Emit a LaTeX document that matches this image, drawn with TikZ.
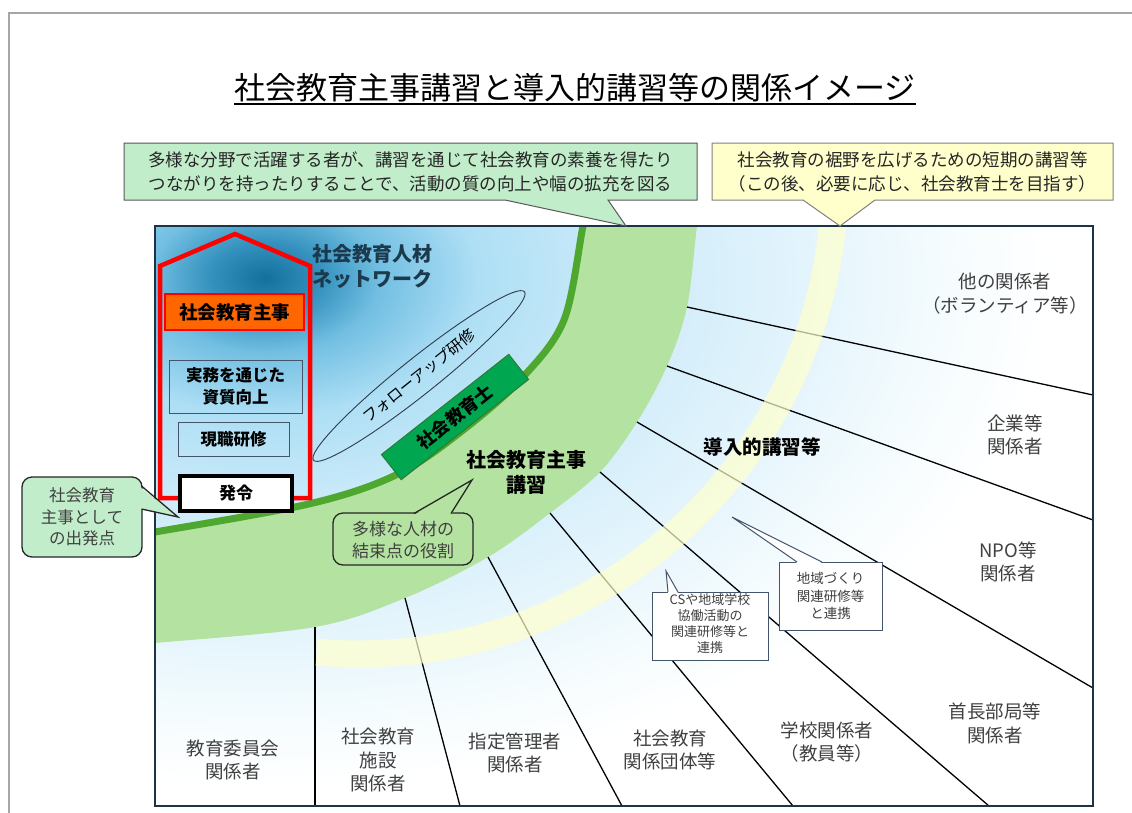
\documentclass[tikz,border=0pt]{standalone}
\usepackage{fontspec}
\setmainfont{Noto Sans CJK JP}
\usetikzlibrary{shapes.geometric}
\definecolor{bandgreen}{HTML}{B4E2A0}
\definecolor{arcgreen}{HTML}{4EA72E}
\definecolor{shigreen}{HTML}{00A650}
\definecolor{shiborder}{HTML}{2F7A34}
\definecolor{calloutgreen}{HTML}{C2EDCB}
\definecolor{calloutyellow}{HTML}{FFFFCC}
\definecolor{bandyellow}{HTML}{FFFFCC}
\definecolor{boxnavy}{HTML}{1C3445}
\definecolor{slate}{HTML}{44546A}
\definecolor{txtgray}{HTML}{404040}
\definecolor{txtdark}{HTML}{262626}
\definecolor{netblue}{HTML}{1B3A4E}
\definecolor{orangebox}{HTML}{FF6600}
\definecolor{framegray}{HTML}{A6A6A6}
\definecolor{g0}{HTML}{13709C}
\definecolor{g1}{HTML}{3592BE}
\definecolor{g2}{HTML}{72BFE2}
\definecolor{g3}{HTML}{AEDFF5}
\definecolor{g4}{HTML}{CDEBF9}
\definecolor{g5}{HTML}{E3F4FC}
\definecolor{g6}{HTML}{F6FCFE}
\pgfdeclareradialshading{bgshade}{\pgfpoint{0bp}{0bp}}{color(0bp)=(g0); color(1.7bp)=(g1); color(3.5bp)=(g2); color(6.5bp)=(g3); color(11bp)=(g4); color(16.5bp)=(g5); color(21bp)=(g6); color(24bp)=(white); color(50bp)=(white)}
\newcommand\fsz[2]{\fontsize{#1}{#2}\selectfont}
\begin{document}
\begin{tikzpicture}[x=1pt,y=-1pt,
  lbl/.style={font=\fsz{18.5}{23.5}, text=txtgray, align=center, inner sep=0pt},
  ctxt/.style={font=\fsz{17.5}{24}, text=txtdark, align=center, inner sep=0pt},
  smalltxt/.style={font=\fsz{13}{16}, text=txtgray, align=center, inner sep=0pt},
  fanline/.style={line width=1.3pt, black},
  innerbox/.style={draw=slate, line width=1pt, inner sep=0pt, align=center, font=\fsz{16.5}{22}\bfseries},
  roundcall/.style={line width=1.3pt, draw=black!85, rounded corners=10pt},
  whitecall/.style={fill=white, draw=slate, line width=1pt}]
\useasboundingbox (0,0) rectangle (1132,812);
% outer frame
\draw[framegray, line width=2pt] (9,830) -- (9,13) -- (1150,13);
% title
\node[font=\fsz{31}{36}, inner sep=0pt] (title) at (575,88) {社会教育主事講習と導入的講習等の関係イメージ};
\coordinate (ul) at (0,104);
\draw[line width=2pt] (title.west |- ul) -- (title.east |- ul);
% main area
\begin{scope}
\clip (155,226) rectangle (1093,806);
\shade[shading=bgshade] (265,278) ellipse[x radius=820, y radius=530];
\fill[bandgreen, even odd rule]
  plot[smooth, tension=0.55] coordinates {(703,190) (697,226) (687,307) (667,366) (637,422) (600,472) (550,513) (488,557) (405,598) (315,627) (155,643) (120,646)} -- (100,180) -- cycle
  plot[smooth, tension=0.55] coordinates {(591,190) (583,226) (564,320) (523,377) (467,427) (400,473) (313,503) (155,532) (120,537)} -- (100,180) -- cycle;
\draw[arcgreen, line width=7pt] plot[smooth, tension=0.55] coordinates {(591,190) (583,226) (564,320) (523,377) (467,427) (400,473) (313,503) (155,532) (120,537)};
\coordinate (o1) at (687,307); \coordinate (e1) at (1093,395);
\coordinate (o2) at (667,366); \coordinate (e2) at (1093,520);
\coordinate (o3) at (637,422); \coordinate (e3) at (1093,688);
\coordinate (o4) at (600,472); \coordinate (e4) at (989,806);
\coordinate (o5) at (550,513); \coordinate (e5) at (793,806);
\coordinate (o6) at (488,557); \coordinate (e6) at (622,806);
\coordinate (o7) at (405,598); \coordinate (e7) at (460,806);
\coordinate (o8) at (315,627); \coordinate (e8) at (315,806);
\foreach \i in {1,...,8} {\draw[fanline] (o\i) -- (e\i);}
\draw[bandyellow, line width=27pt, opacity=0.7] plot[domain=-3:95.1, samples=90] ({359+476*cos(\x)},{178+476*sin(\x)});
\end{scope}
\draw[boxnavy, line width=2.5pt] (155,226) rectangle (1093,806);
% red house
\draw[red, line width=4.5pt, line join=miter] (160,498) -- (160,266) -- (235,234) -- (310,266) -- (310,498) -- cycle;
\node[draw=red, line width=2pt, fill=orangebox, minimum width=139pt, minimum height=36pt, inner sep=0pt, font=\fsz{18.5}{22}\bfseries] (shuji) at (234.5,312) {社会教育主事};
\node[innerbox, minimum width=133pt, minimum height=53pt] (jitsumu) at (235.5,386.5) {実務を通じた\\資質向上};
\node[innerbox, minimum width=111pt, minimum height=34pt] (genshoku) at (233.5,439) {現職研修};
\node[draw=black, line width=4pt, fill=white, minimum width=112pt, minimum height=35pt, inner sep=0pt, font=\fsz{17}{20}\bfseries] (hatsurei) at (236,493.5) {発令};
\node[anchor=east, align=right, text=netblue, font=\fsz{20}{25}\bfseries, inner sep=0pt] (net) at (433,266) {社会教育人材\\ネットワーク};
\node[ellipse, draw=slate!70!black, line width=0.9pt, minimum width=270pt, minimum height=36pt, inner sep=0pt, rotate=38.6, font=\fsz{15.5}{18}] (follow) at (419,376) {フォローアップ研修};
\node[draw=shiborder, fill=shigreen, line width=1pt, minimum width=162pt, minimum height=32pt, inner sep=0pt, rotate=38.2, font=\fsz{18}{20}\bfseries] (shi) at (455,417) {社会教育士};
\node[align=center, font=\fsz{20}{25}\bfseries, inner sep=0pt] (koushu) at (526,472.5) {社会教育主事\\講習};
\node[font=\fsz{19.5}{22}\bfseries, inner sep=0pt] (dounyu) at (762,447) {導入的講習等};
% top callouts
\filldraw[fill=calloutgreen, draw=black!65, line width=1pt] (124,143) -- (697,143) -- (697,200) -- (608,200) -- (626,226) -- (505,200) -- (124,200) -- cycle;
\node[ctxt] (c1) at (410.5,172) {多様な分野で活躍する者が、講習を通じて社会教育の素養を得たり\\つながりを持ったりすることで、活動の質の向上や幅の拡充を図る};
\filldraw[fill=calloutyellow, draw=black!50, line width=1pt] (712,143) -- (1113,143) -- (1113,200) -- (875,200) -- (840,226) -- (803,200) -- (712,200) -- cycle;
\node[ctxt] (c2) at (912.5,172) {社会教育の裾野を広げるための短期の講習等\\（この後、必要に応じ、社会教育士を目指す）};
% left callout
\filldraw[roundcall, fill=calloutgreen] (22,477) rectangle (142,557);
\fill[calloutgreen] (140,487) -- (178,517) -- (140,509) -- cycle;
\draw[line width=1.3pt, black!85] (141.5,486) -- (178,517) -- (141.5,509);
\node[font=\fsz{16.5}{21.5}, text=txtgray, align=center, inner sep=0pt] (c3) at (82,517) {社会教育\\主事として\\の出発点};
% middle callout
\filldraw[roundcall, fill=bandgreen] (333,513) rectangle (473,565);
\fill[bandgreen] (414,515) -- (472,480) -- (451,515) -- cycle;
\draw[line width=1.3pt, black!85] (414,513.5) -- (472,480) -- (451,513.5);
\node[font=\fsz{17}{22}, text=txtgray, align=center, inner sep=0pt] (c4) at (403,540) {多様な人材の\\結束点の役割};
% small white callouts
\filldraw[whitecall] (652,592) rectangle (768,660);
\fill[white] (668,593) -- (666,571) -- (678,593) -- cycle;
\draw[slate, line width=1pt] (668,592) -- (666,571) -- (678,592);
\node[smalltxt] (c5) at (710,624) {CSや地域学校\\協働活動の\\関連研修等と\\連携};
\filldraw[whitecall] (779,562) rectangle (882,630);
\fill[white] (797,563) -- (732,517) -- (822,563) -- cycle;
\draw[slate, line width=1pt] (797,562) -- (732,517) -- (822,562);
\node[smalltxt, font=\fsz{13.5}{17.5}] (c6) at (830.5,596) {地域づくり\\関連研修等\\と連携};
% stakeholder labels
\node[lbl] (l1) at (1005,293.5) {他の関係者\\（ボランティア等）};
\node[lbl] (l2) at (1015,435) {企業等\\関係者};
\node[lbl] (l3) at (1008,562) {NPO等\\関係者};
\node[lbl] (l4) at (995,723.5) {首長部局等\\関係者};
\node[lbl] (l5) at (827,742) {学校関係者\\（教員等）};
\node[lbl] (l6) at (670,750) {社会教育\\関係団体等};
\node[lbl] (l7) at (515,753) {指定管理者\\関係者};
\node[lbl] (l8) at (378,760) {社会教育\\施設\\関係者};
\node[lbl] (l9) at (233,760) {教育委員会\\関係者};
\end{tikzpicture}
\end{document}
